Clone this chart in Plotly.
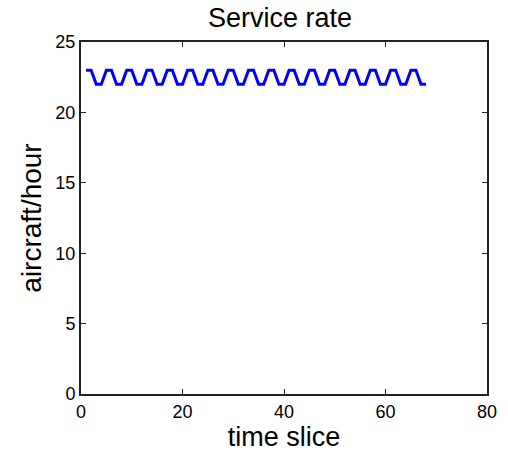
import plotly.graph_objects as go

time_slice = list(range(1, 69))
service_rate = [23, 23, 22, 22, 23, 23, 22, 22, 23, 23, 22, 22, 23, 23, 22, 22,
                23, 23, 22, 22, 23, 23, 22, 22, 23, 23, 22, 22, 23, 23, 22, 22,
                23, 23, 22, 22, 23, 23, 22, 22, 23, 23, 22, 22, 23, 23, 22, 22,
                23, 23, 22, 22, 23, 23, 22, 22, 23, 23, 22, 22, 23, 23, 22, 22,
                23, 23, 22, 22]
x_ticks = [0, 20, 40, 60, 80]
y_ticks = [0, 5, 10, 15, 20, 25]

fig = go.Figure()
fig.add_trace(go.Scatter(x=time_slice, y=service_rate, mode="lines",
                         line=dict(color="#0000ff", width=3), showlegend=False))

axis_common = dict(showgrid=False, zeroline=False, showline=True, linecolor="#222222",
                   linewidth=2, mirror="ticks", ticks="inside", ticklen=5,
                   tickcolor="#222222", tickfont=dict(size=18, color="black"))

fig.update_xaxes(range=[0, 80], tickvals=x_ticks,
                 title=dict(text="time slice", font=dict(size=27, color="black"), standoff=6),
                 **axis_common)
fig.update_yaxes(range=[0, 25], tickvals=y_ticks,
                 title=dict(text="aircraft/hour", font=dict(size=28, color="black"), standoff=6),
                 **axis_common)

fig.update_layout(
    width=508, height=457,
    margin=dict(l=81, r=11, t=42, b=62),
    paper_bgcolor="white", plot_bgcolor="white",
    font=dict(family="Liberation Sans, Arial, sans-serif", color="black"),
    title=dict(text="Service rate", font=dict(size=27, color="black"),
               x=0.49, xanchor="center", xref="paper",
               y=1 - 18 / 457, yanchor="middle", yref="container"),
)

fig.write_html("out.html")
